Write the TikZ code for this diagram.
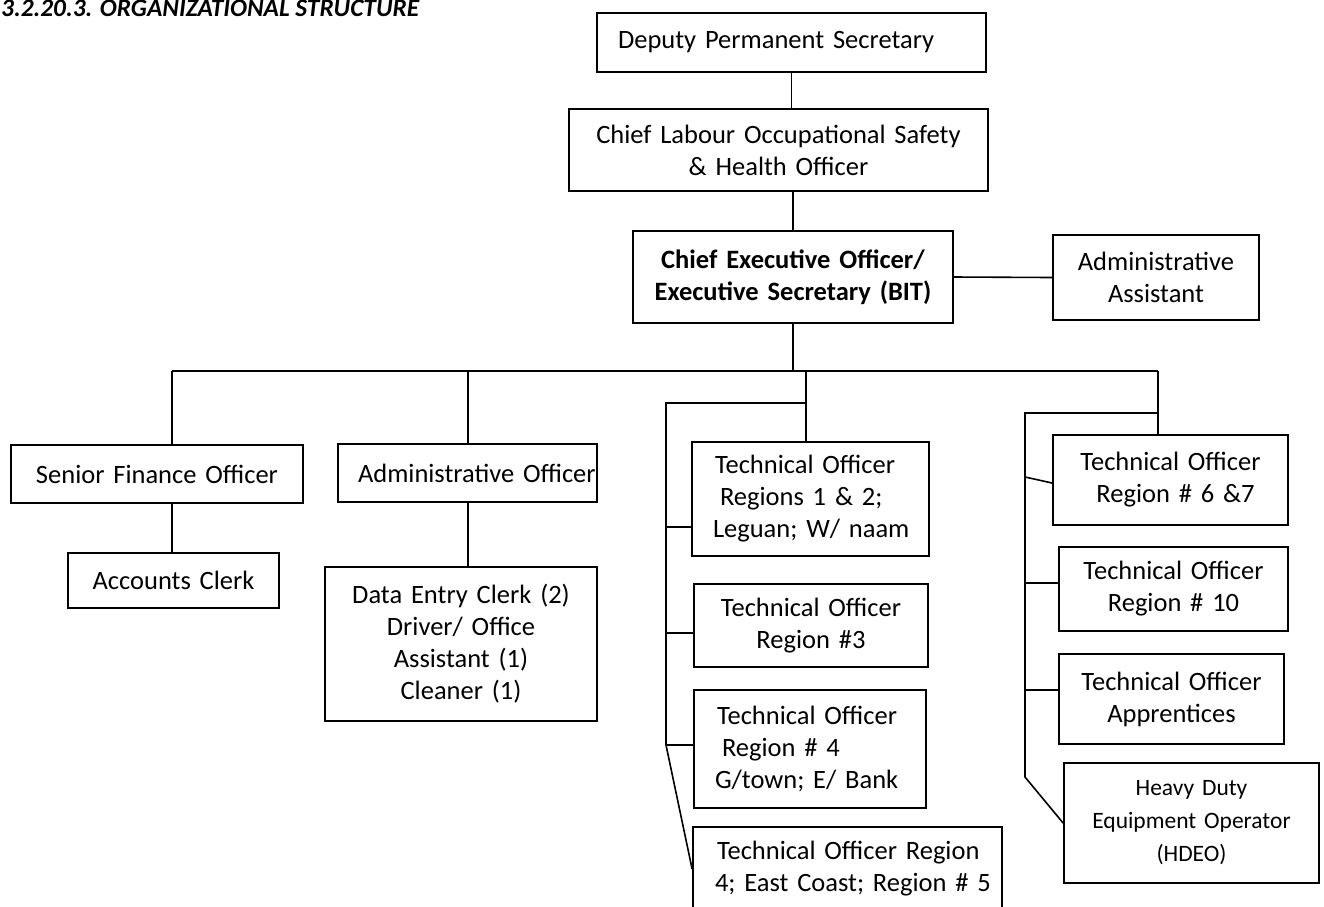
\documentclass[tikz,border=0pt]{standalone}
\usepackage{fontspec}
\setmainfont{Carlito}
\begin{document}
\begin{tikzpicture}[x=1pt,y=-1pt,
  box/.style={draw, line width=1.8pt, inner xsep=0pt, inner ysep=0pt,
    font=\fontsize{26.5}{32}\selectfont},
  small/.style={font=\fontsize{23.5}{33}\selectfont},
  wire/.style={line width=1.6pt}]
\useasboundingbox (0,0) rectangle (1324,906);

% heading
\node[anchor=base west, inner sep=0pt, font=\fontsize{25.3}{30}\selectfont\bfseries\itshape]
  (title) at (1,16.5) {3.2.20.3. ORGANIZATIONAL STRUCTURE};

% top of the chain
\node[box, text width=389pt, minimum height=59pt, align=left] (dps) at (791.5,42.5)
  {\hspace*{21pt}Deputy Permanent Secretary};
\node[box, text width=419pt, minimum height=82pt, align=center] (clo) at (778.5,150)
  {Chief Labour Occupational Safety\\\& Health Officer};
\node[box, text width=320pt, minimum height=92pt, align=center, font=\fontsize{26.5}{32}\selectfont\bfseries] (ceo) at (793,277)
  {Chief Executive Officer/\\Executive Secretary (BIT)};
\node[box, text width=206pt, minimum height=85pt, align=center] (aas) at (1156,277.5)
  {Administrative\\Assistant};

% finance and administration
\node[box, text width=292pt, minimum height=58pt, align=center] (sfo) at (157,474)
  {Senior Finance Officer};
\node[box, text width=211pt, minimum height=55pt, align=center] (acc) at (173.5,580.5)
  {Accounts Clerk};
\node[box, text width=259pt, minimum height=58pt, align=left] (ado) at (467.5,473)
  {\hspace*{20pt}\mbox{Administrative Officer}};
\node[box, text width=272pt, minimum height=154pt, align=center] (dec) at (461,644)
  {Data Entry Clerk (2)\\Driver/ Office\\Assistant (1)\\Cleaner (1)};

% technical officers, first group
\node[box, text width=237pt, minimum height=114pt, align=left] (to12) at (810.5,499)
  {\hspace*{23pt}Technical Officer\\\hspace*{28pt}Regions 1 \& 2;\\\hspace*{21pt}Leguan; W/ naam};
\node[box, text width=234pt, minimum height=83pt, align=center] (to3) at (811,625.5)
  {Technical Officer\\Region \#3};
\node[box, text width=232pt, minimum height=118pt, align=left] (to4) at (810,749)
  {\hspace*{23pt}Technical Officer\\\hspace*{28pt}Region \# 4\\\hspace*{21pt}G/town; E/ Bank};
\node[box, text width=309pt, minimum height=84pt, align=left] (to45) at (847.5,869)
  {\hspace*{24pt}Technical Officer Region\\\hspace*{22pt}4; East Coast; Region \# 5};

% technical officers, second group
\node[box, text width=235pt, minimum height=90pt, align=center] (to67) at (1170.5,480)
  {Technical Officer\\\hspace*{10pt}Region \# 6 \&7};
\node[box, text width=229pt, minimum height=84pt, align=center] (to10) at (1173.5,589)
  {Technical Officer\\Region \# 10};
\node[box, text width=225pt, minimum height=90pt, align=center] (toap) at (1171.5,699)
  {Technical Officer\\Apprentices};
\node[box, small, text width=255pt, minimum height=120pt, align=center] (hdeo) at (1191.5,823)
  {Heavy Duty\\Equipment Operator\\(HDEO)};

% junction points
\coordinate (hub) at (793,371);
\coordinate (busL) at (172,371);
\coordinate (busA) at (468,371);
\coordinate (busT) at (806,371);
\coordinate (busR) at (1158,371);
\coordinate (ctop) at (666,403);
\coordinate (c1) at (666,527);
\coordinate (c2) at (666,633);
\coordinate (c3) at (666,745);
\coordinate (rtop) at (1025,413);
\coordinate (r1) at (1025,477);
\coordinate (r2) at (1025,583);
\coordinate (r3) at (1025,690);
\coordinate (r4) at (1025,777);

% upper chain
\draw[wire] (dps.south) -- (dps.south |- clo.north);
\draw[wire] (ceo.north |- clo.south) -- (ceo.north);
\draw[wire] (ceo.east) -- (aas.west);
\draw[wire] (ceo.south) -- (hub);

% main bus and drops
\draw[wire] (busL) -- (busR);
\draw[wire] (busL) -- (busL |- sfo.north);
\draw[wire] (busA) -- (busA |- ado.north);
\draw[wire] (busT) -- (busT |- to12.north);
\draw[wire] (busR) -- (busR |- to67.north);
\draw[wire] (busL |- sfo.south) -- (busL |- acc.north);
\draw[wire] (busA |- ado.south) -- (busA |- dec.north);

% first technical spine
\draw[wire] (busT |- ctop) -- (ctop) -- (c3) -- (to45.west);
\draw[wire] (c1) -- (c1 -| to12.west);
\draw[wire] (c2) -- (c2 -| to3.west);
\draw[wire] (c3) -- (c3 -| to4.west);

% second technical spine
\draw[wire] (busR |- rtop) -- (rtop) -- (r4) -- (hdeo.west);
\draw[wire] (r1) -- ([yshift=-3pt]to67.west);
\draw[wire] (r2) -- (r2 -| to10.west);
\draw[wire] (r3) -- (r3 -| toap.west);
\end{tikzpicture}
\end{document}
